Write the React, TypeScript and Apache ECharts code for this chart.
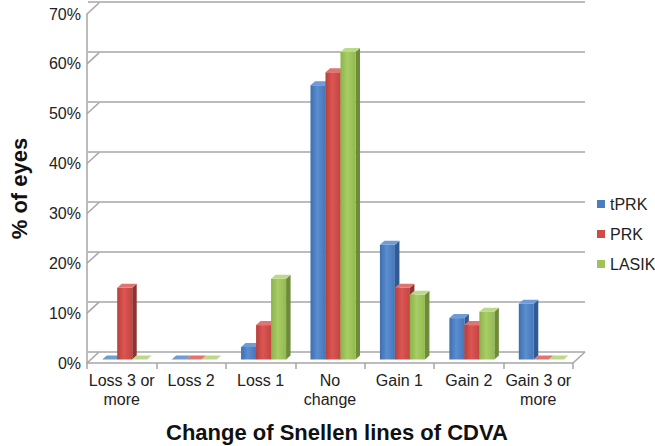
import React, { useEffect, useRef } from "react";
import * as echarts from "echarts";

const categories = ["Loss 3 or\nmore", "Loss 2", "Loss 1", "No\nchange", "Gain 1", "Gain 2", "Gain 3 or\nmore"];
const seriesNames = ["tPRK", "PRK", "LASIK"];
const tPRK = [0, 0, 2.5, 55, 23, 8.3, 11.2];
const PRK = [14.4, 0, 6.9, 57.6, 14.4, 6.9, 0];
const LASIK = [0, 0, 16.2, 61.7, 13, 9.6, 0];
const yTicks = [0, 10, 20, 30, 40, 50, 60, 70];

const FONT = "'Liberation Sans', Arial, sans-serif";

const palettes = [
  { front: ["#3e6eae", "#5a8ed0", "#4676b8"], side: "#2f5a93", top: "#6f9bd6", legend: "#4a7ebf" },
  { front: ["#b83e3c", "#dc5653", "#c2453f"], side: "#8e3331", top: "#e07472", legend: "#d04a48" },
  { front: ["#8cb24a", "#a8cd66", "#93ba51"], side: "#6e8c37", top: "#bcd98a", legend: "#9dc35a" },
];

const allValues = [tPRK, PRK, LASIK];

export default function App() {
  const ref = useRef<HTMLDivElement>(null);
  useEffect(() => {
    if (!ref.current) return;
    const chart = echarts.init(ref.current, null, { renderer: "svg" });

    const barSeries = allValues.map((vals, s) => ({
      type: "custom",
      name: seriesNames[s],
      xAxisIndex: 0,
      yAxisIndex: 0,
      z: 5,
      itemStyle: { color: palettes[s].legend },
      encode: { x: 0, y: 1 },
      data: vals.map((v, i) => [i, v]),
      renderItem: (params: any, api: any) => {
        const i = api.value(0);
        const v = api.value(1);
        const p0 = api.coord([i, 0]);
        const p1 = api.coord([i, v]);
        const cx = p0[0];
        const bw = 15;
        const dx = 4.5;
        const dy = -4;
        const x0 = cx + 3 - 1.5 * bw + s * bw;
        const yb = p0[1] - 3.5;
        const yt = p1[1] - 3.5;
        const pal = palettes[s];
        return {
          type: "group",
          children: [
            {
              type: "polygon",
              shape: { points: [[x0 + bw, yt], [x0 + bw + dx, yt + dy], [x0 + bw + dx, yb + dy], [x0 + bw, yb]] },
              style: { fill: pal.side },
            },
            {
              type: "rect",
              shape: { x: x0, y: yt, width: bw, height: Math.max(0, yb - yt) },
              style: {
                fill: new echarts.graphic.LinearGradient(0, 0, 1, 0, [
                  { offset: 0, color: pal.front[0] },
                  { offset: 0.45, color: pal.front[1] },
                  { offset: 1, color: pal.front[2] },
                ]),
              },
            },
            {
              type: "polygon",
              shape: { points: [[x0, yt], [x0 + dx, yt + dy], [x0 + bw + dx, yt + dy], [x0 + bw, yt]] },
              style: { fill: pal.top },
            },
          ],
        };
      },
    }));

    const option: any = {
      animation: false,
      textStyle: { fontFamily: FONT },
      grid: [
        { left: 76, right: 82, top: 14, bottom: 83 },
        { left: 88, right: 70, top: 2, bottom: 94 },
      ],
      xAxis: [
        {
          type: "category",
          gridIndex: 0,
          data: categories,
          boundaryGap: true,
          axisLine: { show: true, lineStyle: { color: "#a6a6a6", width: 1.5 } },
          axisTick: { show: true, length: 6, lineStyle: { color: "#a6a6a6", width: 1.5 } },
          axisLabel: { fontSize: 16, lineHeight: 19, color: "#222", margin: 8, fontFamily: FONT, interval: 0 },
          splitLine: { show: false },
        },
        { type: "value", gridIndex: 1, show: false, min: 0, max: 1 },
      ],
      yAxis: [
        {
          type: "value",
          gridIndex: 0,
          min: 0,
          max: 70,
          interval: 10,
          axisLine: { show: true, lineStyle: { color: "#a6a6a6", width: 1.5 } },
          axisTick: { show: false },
          splitLine: { show: false },
          axisLabel: { formatter: "{value}%", fontSize: 16, color: "#222", margin: 6, fontFamily: FONT },
          name: "% of eyes",
          nameLocation: "middle",
          nameRotate: 90,
          nameGap: 57,
          nameTextStyle: { fontSize: 22, fontWeight: "bold", color: "#111", fontFamily: FONT },
        },
        {
          type: "value",
          gridIndex: 1,
          min: 0,
          max: 70,
          interval: 10,
          axisLine: { show: false },
          axisTick: { show: false },
          axisLabel: { show: false },
          splitLine: { show: true, lineStyle: { color: "#a6a6a6", width: 1.5 } },
        },
      ],
      legend: {
        orient: "vertical",
        left: 592,
        top: 191,
        itemWidth: 8,
        itemHeight: 8,
        itemGap: 14,
        icon: "rect",
        data: seriesNames,
        textStyle: { fontSize: 16, lineHeight: 16, color: "#222", fontFamily: FONT },
      },
      graphic: [
        {
          type: "text",
          left: 338 - 172,
          top: 421,
          style: {
            text: "Change of Snellen lines of CDVA",
            fontSize: 22,
            fontWeight: "bold",
            fill: "#111",
            fontFamily: FONT,
          },
        },
      ],
      series: [
        {
          type: "custom",
          name: "walls",
          xAxisIndex: 0,
          yAxisIndex: 0,
          silent: true,
          z: 1,
          encode: { x: 0, y: 1 },
          data: yTicks.map((t) => [0, t]),
          renderItem: (params: any, api: any) => {
            const t = api.value(1);
            const cs = params.coordSys;
            const y = api.coord([0, t])[1];
            const children: any[] = [
              {
                type: "line",
                shape: { x1: cs.x, y1: y, x2: cs.x + 12, y2: y - 11 },
                style: { stroke: "#a6a6a6", lineWidth: 1.5 },
              },
            ];
            if (t === 0) {
              children.push({
                type: "line",
                shape: { x1: cs.x + cs.width, y1: y, x2: cs.x + cs.width + 12, y2: y - 11 },
                style: { stroke: "#a6a6a6", lineWidth: 1.5 },
              });
            }
            return { type: "group", children };
          },
        },
        ...barSeries,
      ],
    };
    chart.setOption(option);
    return () => chart.dispose();
  }, []);
  return <div ref={ref} style={{ position: "absolute", left: 0, top: 0, width: 655, height: 446 }} />;
}
